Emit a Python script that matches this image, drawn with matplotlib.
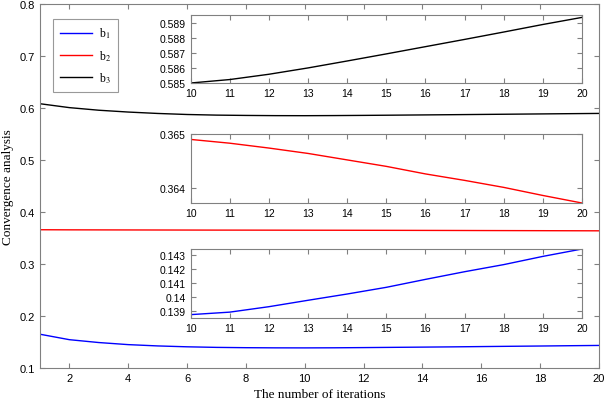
import matplotlib
matplotlib.use("Agg")
import matplotlib.pyplot as plt
from matplotlib.ticker import FormatStrFormatter, FuncFormatter
import numpy as np

plt.rcParams["mathtext.fontset"] = "stix"

iters = list(range(1, 21))
b1 = [0.1650, 0.1545, 0.1490, 0.1450, 0.1425, 0.1408, 0.1397, 0.1391, 0.1388,
      0.13872, 0.1389, 0.13929, 0.13975, 0.1402, 0.14068, 0.14125, 0.1418,
      0.14231, 0.1429, 0.14343]
b2 = [0.3658, 0.3656, 0.3655, 0.3654, 0.3653, 0.3652, 0.3651, 0.36505, 0.36497,
      0.36490, 0.36483, 0.36474, 0.36464, 0.36452, 0.36440, 0.36426, 0.36414,
      0.36401, 0.36386, 0.36372]
b3 = [0.6080, 0.6005, 0.5955, 0.5920, 0.5893, 0.5873, 0.5861, 0.5855, 0.5851,
      0.5850, 0.58523, 0.58558, 0.58600, 0.58646, 0.58693, 0.58741, 0.58789,
      0.58838, 0.58888, 0.58935]
names = ["b$_1$", "b$_2$", "b$_3$"]
colors = ["#0000ff", "#ff0000", "#000000"]

serif = "Liberation Serif"
sans = "Liberation Sans"
grey = "#808080"

def style(ax, fs):
    for s in ax.spines.values():
        s.set_color(grey)
        s.set_linewidth(0.8)
    ax.tick_params(direction="in", top=True, right=True, colors=grey,
                   labelcolor="black", labelsize=fs, length=3.5)
    for lab in ax.get_xticklabels() + ax.get_yticklabels():
        lab.set_fontfamily(sans)

fig = plt.figure(figsize=(6.05, 4.02), dpi=100)
ax = fig.add_axes([0.066, 0.082, 0.924, 0.906])
for y, c, n in zip([b1, b2, b3], colors, names):
    ax.plot(iters, y, color=c, lw=1.0, label=n)
ax.set_xlim(1, 20)
ax.set_ylim(0.1, 0.8)
ax.set_xticks(range(2, 21, 2))
ax.set_yticks(np.arange(0.1, 0.81, 0.1))
ax.yaxis.set_major_formatter(FormatStrFormatter("%.1f"))
style(ax, 8)
ax.set_xlabel("The number of iterations", fontfamily=serif, fontsize=9.5)
ax.set_ylabel("Convergence analysis", fontfamily=serif, fontsize=9.5)
leg = ax.legend(loc="upper left", bbox_to_anchor=(0.013, 0.975),
                prop={"family": serif, "size": 8.5}, fancybox=False,
                handlelength=2.7, handletextpad=0.6, borderpad=0.6,
                labelspacing=0.65)
leg.get_frame().set_edgecolor(grey)
leg.get_frame().set_linewidth(0.8)

gfmt = FuncFormatter(lambda v, p: ("%.3f" % v).rstrip("0").rstrip("."))

insets = [
    ([0.315, 0.791, 0.647, 0.170], b3, colors[2], (0.585, 0.58953), [0.585, 0.586, 0.587, 0.588, 0.589]),
    ([0.315, 0.4925, 0.647, 0.1716], b2, colors[1], (0.36372, 0.365), [0.364, 0.365]),
    ([0.315, 0.2065, 0.647, 0.1716], b1, colors[0], (0.13848, 0.14343), [0.139, 0.140, 0.141, 0.142, 0.143]),
]
for rect, y, c, lim, ticks in insets:
    a = fig.add_axes(rect)
    a.plot(iters[9:], y[9:], color=c, lw=1.0)
    a.set_xlim(10, 20)
    a.set_ylim(*lim)
    a.set_xticks(range(10, 21))
    a.set_yticks(ticks)
    a.yaxis.set_major_formatter(gfmt)
    style(a, 7.5)

fig.savefig("out.png", dpi=100)
